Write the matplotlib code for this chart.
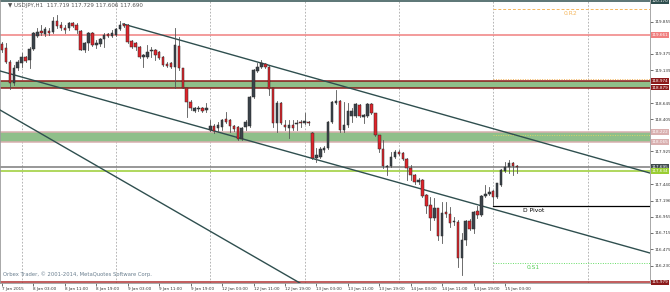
import numpy as np
import matplotlib
matplotlib.use("Agg")
import matplotlib.pyplot as plt
from matplotlib.patches import Rectangle
from matplotlib import font_manager

# USDJPY H1 candles, 7 Jan 19:00 .. 15 Jan 06:00
opens = [119.527, 119.468, 119.259, 118.947, 119.170, 119.245, 119.334, 119.289, 119.453, 119.646,
         119.721, 119.676, 119.721, 119.706, 119.870, 119.810, 119.765, 119.765, 119.840, 119.810,
         119.721, 119.438, 119.542, 119.691, 119.512, 119.527, 119.602, 119.676, 119.646, 119.661,
         119.750, 119.825, 119.810, 119.572, 119.542, 119.483, 119.334, 119.334, 119.423, 119.438,
         119.408, 119.334, 119.230, 119.245, 119.185, 119.498, 119.170, 118.873, 118.664, 118.530,
         118.560, 118.575, 118.545, 118.248, 118.307, 118.277, 118.292, 118.411, 118.396, 118.307,
         118.292, 118.114, 118.292, 118.307, 118.739, 119.126, 119.185, 119.230, 119.185, 118.873,
         118.352, 118.649, 118.322, 118.277, 118.322, 118.344, 118.360, 118.352, 118.367, 118.203,
         117.831, 117.846, 117.950, 117.980, 118.367, 118.649, 118.679, 118.248, 118.322, 118.456,
         118.456, 118.620, 118.441, 118.456, 118.635, 118.501, 118.173, 117.965, 117.697, 117.712,
         117.846, 117.920, 117.905, 117.816, 117.682, 117.578, 117.474, 117.504, 117.280, 117.132,
         116.938, 117.087, 116.670, 117.028, 116.998, 116.879, 116.879, 116.343, 116.611, 116.894,
         116.775, 117.042, 116.983, 117.266, 117.295, 117.340, 117.251, 117.429, 117.638, 117.697,
         117.757, 117.719]
highs = [119.557, 119.542, 119.289, 119.215, 119.289, 119.393, 119.349, 119.483, 119.706, 119.765,
         119.810, 119.780, 119.765, 119.929, 119.959, 119.855, 119.810, 119.855, 119.855, 119.840,
         119.736, 119.557, 119.706, 119.706, 119.587, 119.617, 119.691, 119.691, 119.736, 119.765,
         119.870, 119.840, 119.825, 119.587, 119.557, 119.498, 119.378, 119.512, 119.483, 119.453,
         119.423, 119.349, 119.259, 119.259, 119.765, 119.631, 119.170, 118.873, 118.694, 118.590,
         118.605, 118.590, 118.649, 118.396, 118.337, 118.367, 118.411, 118.516, 118.411, 118.322,
         118.307, 118.292, 118.396, 118.754, 119.155, 119.245, 119.289, 119.245, 119.200, 118.873,
         118.679, 118.664, 118.396, 118.396, 118.396, 118.396, 118.396, 118.501, 118.382, 118.218,
         117.980, 117.995, 118.010, 118.382, 118.679, 118.843, 118.694, 118.664, 118.649, 118.575,
         118.649, 118.635, 118.486, 118.649, 118.649, 118.501, 118.173, 118.099, 117.727, 117.920,
         117.950, 117.950, 117.920, 117.831, 117.727, 117.593, 117.533, 117.519, 117.295, 117.251,
         117.236, 117.087, 117.176, 117.176, 117.102, 116.953, 116.908, 116.715, 116.908, 116.923,
         117.042, 117.117, 117.280, 117.429, 117.400, 117.355, 117.459, 117.667, 117.771, 117.801,
         117.771, 117.729]
lows = [119.408, 119.245, 118.858, 118.917, 119.140, 119.185, 119.259, 119.170, 119.438, 119.631,
        119.661, 119.646, 119.661, 119.691, 119.765, 119.736, 119.691, 119.736, 119.780, 119.691,
        119.438, 119.408, 119.438, 119.498, 119.468, 119.498, 119.483, 119.631, 119.631, 119.646,
        119.736, 119.780, 119.542, 119.468, 119.438, 119.319, 119.185, 119.319, 119.334, 119.289,
        119.304, 119.200, 119.185, 119.170, 118.873, 119.140, 118.873, 118.441, 118.545, 118.516,
        118.530, 118.516, 118.516, 118.233, 118.203, 118.233, 118.248, 118.352, 118.218, 118.233,
        118.099, 118.099, 118.248, 118.292, 118.724, 119.111, 119.170, 119.170, 118.768, 118.292,
        118.218, 118.337, 118.248, 118.128, 118.248, 118.248, 118.292, 118.337, 118.322, 117.816,
        117.771, 117.831, 117.920, 117.965, 118.352, 118.635, 118.218, 118.218, 118.292, 118.367,
        118.441, 118.441, 118.352, 118.441, 118.486, 118.158, 117.920, 117.682, 117.578, 117.697,
        117.831, 117.876, 117.801, 117.504, 117.504, 117.444, 117.444, 117.251, 117.013, 116.760,
        116.908, 116.611, 116.566, 116.953, 116.804, 116.834, 116.209, 116.090, 116.536, 116.760,
        116.715, 116.938, 116.968, 117.251, 117.280, 117.132, 117.236, 117.414, 117.623, 117.608,
        117.578, 117.606]
closes = [119.438, 119.259, 118.947, 119.170, 119.259, 119.334, 119.274, 119.453, 119.691, 119.706,
          119.691, 119.750, 119.691, 119.870, 119.795, 119.765, 119.736, 119.840, 119.795, 119.736,
          119.438, 119.542, 119.691, 119.512, 119.542, 119.602, 119.661, 119.646, 119.691, 119.750,
          119.810, 119.795, 119.557, 119.483, 119.483, 119.334, 119.364, 119.408, 119.438, 119.364,
          119.319, 119.215, 119.200, 119.185, 119.512, 119.170, 118.873, 118.664, 118.575, 118.575,
          118.568, 118.530, 118.575, 118.307, 118.233, 118.322, 118.396, 118.367, 118.307, 118.262,
          118.114, 118.277, 118.367, 118.739, 119.140, 119.185, 119.245, 119.185, 118.858, 118.352,
          118.649, 118.352, 118.292, 118.322, 118.277, 118.352, 118.352, 118.382, 118.352, 117.831,
          117.876, 117.965, 117.980, 118.367, 118.664, 118.679, 118.248, 118.322, 118.530, 118.530,
          118.635, 118.456, 118.471, 118.635, 118.501, 118.173, 117.965, 117.712, 117.712, 117.846,
          117.920, 117.890, 117.816, 117.682, 117.578, 117.474, 117.504, 117.266, 117.117, 116.938,
          117.087, 116.670, 117.013, 116.998, 116.864, 116.894, 116.343, 116.611, 116.894, 116.775,
          117.028, 116.983, 117.266, 117.295, 117.325, 117.251, 117.459, 117.652, 117.697, 117.757,
          117.712, 117.690]

time_ticks = [0, 8, 16, 24, 32, 40, 48, 56, 64, 72, 80, 88, 96, 104, 112, 120, 128]
time_labels = ["7 Jan 2015", "8 Jan 03:00", "8 Jan 11:00", "8 Jan 19:00", "9 Jan 03:00",
               "9 Jan 11:00", "9 Jan 19:00", "12 Jan 03:00", "12 Jan 11:00", "12 Jan 19:00",
               "13 Jan 03:00", "13 Jan 11:00", "13 Jan 19:00", "14 Jan 03:00", "14 Jan 11:00",
               "14 Jan 19:00", "15 Jan 03:00"]
day_starts = [5, 29, 53, 77, 101, 125, 149]
price_ticks = [119.855, 119.379, 119.139, 118.645, 118.405, 117.929, 117.440,
               117.196, 116.955, 116.715, 116.475, 116.230]

# horizontal levels: (price, line colour, label background)
levels = [
    (120.170, "#2f4f4f", "#2f4f4f"),
    (119.661, "#f08080", "#f08080"),
    (118.974, "#8b1a1a", "#8b1a1a"),
    (118.879, "#8b1a1a", "#8b1a1a"),
    (118.222, "#d9afaf", "#d9afaf"),
    (118.065, "#d9afaf", "#d9afaf"),
    (117.695, "#7a7a7a", "#3f4a4d"),
    (117.634, "#9acd32", "#9acd32"),
    (115.979, "#b03030", "#8b1a1a"),
]
zones = [(118.879, 118.974), (118.065, 118.222)]

# trend lines (bar index, price)
trend_upper = ([30.8, 164.9], [119.825, 117.607])
trend_lower = ([-0.5, 164.9], [119.126, 116.417])
trend_steep = ([-0.5, 75.8], [118.545, 115.971])

pivot_start = 125
pivot_r2 = 120.044
pivot_r1 = 119.011
pivot_mid = 118.178
pivot_d = 117.121
pivot_s1 = 116.273

# small narrow font for the axis texts, like the terminal's
installed = {f.name for f in font_manager.fontManager.ttflist}
if "Liberation Sans Narrow" in installed:
    axis_font, x_size, y_size = "Liberation Sans Narrow", 3.9, 3.9
else:
    axis_font, x_size, y_size = "DejaVu Sans", 3.0, 3.0

fig = plt.figure(figsize=(6.7, 2.92), dpi=100)
ax = fig.add_axes([0, 9 / 292, 650 / 670, 283 / 292])
xmax = 164.9
ax.set_xlim(-0.51, xmax)
ax.set_ylim(115.971, 120.182)

for d in day_starts:
    ax.axvline(d, color="#a8a8a8", lw=0.6, ls=(0, (2, 2)), zorder=1)

for lo, hi in zones:
    ax.axhspan(lo, hi, color="#8fbf8a", lw=0, zorder=1)

for price, lc, bg in levels:
    ax.axhline(price, color=lc, lw=1.1, zorder=2)
    ax.annotate(f"{price:.3f}", xy=(1.0, price), xycoords=("axes fraction", "data"),
                xytext=(1.0, 0), textcoords="offset points", va="center", ha="left",
                fontsize=y_size, family=axis_font, color="white", annotation_clip=False,
                bbox=dict(boxstyle="square,pad=0.2", fc=bg, ec="none"), zorder=6)

# pivot lines from the start of 15 Jan
ax.plot([pivot_start, xmax], [pivot_r2] * 2, color="#f5b860", lw=0.7, ls=(0, (3, 2)), zorder=2)
ax.plot([pivot_start, xmax], [pivot_r1] * 2, color="#f5b860", lw=0.7, ls=(0, (1, 1.5)), zorder=2)
ax.plot([pivot_start, xmax], [pivot_mid] * 2, color="#d6d66a", lw=0.7, ls=(0, (1, 1.5)), zorder=2)
ax.plot([pivot_start, xmax], [pivot_d] * 2, color="black", lw=0.9, zorder=2)
ax.plot([pivot_start, xmax], [pivot_s1] * 2, color="#66dd66", lw=0.7, ls=(0, (1, 1.5)), zorder=2)
ax.text(143, pivot_r2 - 0.03, "0.R2", fontsize=4.3, color="#f5b860", va="top", ha="left")
ax.text(132.5, pivot_d - 0.03, "D Pivot", fontsize=4.3, color="black", va="top", ha="left")
ax.text(133.5, pivot_s1 - 0.03, "0.S1", fontsize=4.3, color="#55cc55", va="top", ha="left")

for xs, ys in (trend_upper, trend_lower, trend_steep):
    ax.plot(xs, ys, color="#2f4f4f", lw=1.0, zorder=3)

# candles
w = 0.64
for i, (o, h, l, c) in enumerate(zip(opens, highs, lows, closes)):
    bull = c >= o
    ax.plot([i, i], [l, h], color="#555555", lw=0.6, zorder=4)
    body_lo = min(o, c)
    body_h = max(abs(c - o), 0.006)
    ax.add_patch(Rectangle((i - w / 2, body_lo), w, body_h,
                           fc="#3b434a" if bull else "#e0242b",
                           ec="#2a2a2a", lw=0.35, zorder=5))

ax.set_xticks(time_ticks)
ax.set_xticklabels(time_labels, ha="left", family=axis_font)
ax.set_yticks(price_ticks)
ax.set_yticklabels([f"{p:.3f}" for p in price_ticks], family=axis_font)
ax.yaxis.tick_right()
ax.tick_params(axis="x", length=2, pad=0.8, labelsize=x_size, colors="#333333", width=0.5)
ax.tick_params(axis="y", length=2, pad=1, labelsize=y_size, colors="#333333", width=0.5)
for s in ("left", "right", "bottom"):
    ax.spines[s].set_color("#9a9a9a")
    ax.spines[s].set_linewidth(0.6)
ax.spines["top"].set_visible(False)

ax.text(0.012, 0.988, "\u25bc USDJPY,H1  117.719 117.729 117.606 117.690",
        transform=ax.transAxes, fontsize=4.0, color="#555555", va="top", ha="left")
ax.text(0.005, 0.02, "Orbex Trader, \u00a9 2001-2014, MetaQuotes Software Corp.",
        transform=ax.transAxes, fontsize=3.8, color="#6a7f8f", va="bottom", ha="left")

fig.savefig("out.png", dpi=100)
